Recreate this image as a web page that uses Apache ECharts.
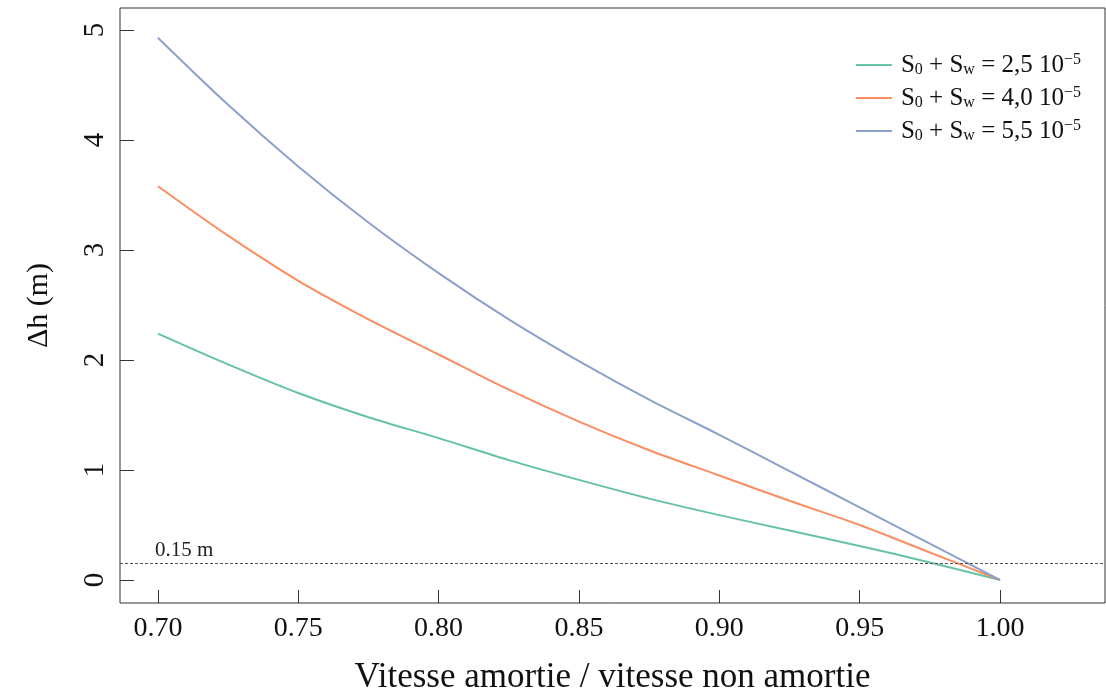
<!DOCTYPE html>
<html><head><meta charset="utf-8">
<script src="https://cdn.jsdelivr.net/npm/echarts@6/dist/echarts.min.js"></script>
<style>html,body{margin:0;padding:0;background:#fff}#c{width:1106px;height:693px}</style>
</head><body><div id="c"></div>
<script>
var ratio = [0.700,0.725,0.750,0.775,0.800,0.825,0.850,0.875,0.900,0.925,0.950,0.975,1.000];
var dh25 = [2.24,1.96,1.70,1.48,1.29,1.09,0.91,0.74,0.59,0.45,0.31,0.16,0.00];
var dh40 = [3.58,3.13,2.72,2.37,2.05,1.73,1.44,1.18,0.95,0.72,0.50,0.25,0.00];
var dh55 = [4.93,4.32,3.76,3.25,2.79,2.37,1.99,1.64,1.32,0.99,0.66,0.33,0.00];
var xTicks = [0.70,0.75,0.80,0.85,0.90,0.95,1.00];
var yTicks = [0,1,2,3,4,5];
var seriesNames = ['S0 + Sw = 2,5 10−5','S0 + Sw = 4,0 10−5','S0 + Sw = 5,5 10−5'];
var legendRich = ['S{sub|0} + S{sub|w} = 2,5 10{sup|−5}','S{sub|0} + S{sub|w} = 4,0 10{sup|−5}','S{sub|0} + S{sub|w} = 5,5 10{sup|−5}'];
var colors = ['#66c2a5','#fc8d62','#8da0cb'];
var threshold = 0.15;
var thresholdLabel = '0.15 m';

function pts(ys){ return ratio.map(function(x,i){ return [x, ys[i]]; }); }
var FONT = 'Liberation Serif';
var chart = echarts.init(document.getElementById('c'), null, {renderer:'canvas'});
var allData = [dh25, dh40, dh55];
var series = allData.map(function(d,i){
  var s = {type:'line', name:seriesNames[i], data:pts(d), smooth:0.3, showSymbol:false, symbol:'none',
    lineStyle:{color:colors[i], width:2}, itemStyle:{color:colors[i]}, z:3};
  if(i===0){
    s.markLine = {silent:true, symbol:'none', animation:false,
      lineStyle:{color:'#555', type:[3,2], width:1},
      label:{show:true, position:'insideStartTop', formatter:thresholdLabel, color:'#222', fontFamily:FONT, fontSize:21, distance:[35,3]},
      data:[{yAxis:threshold}]};
  }
  return s;
});
chart.setOption({
  animation:false,
  textStyle:{fontFamily:FONT},
  grid:{left:120, right:1, top:8, bottom:90, outerBoundsMode:'none', containLabel:false, show:true, borderColor:'#333', borderWidth:1, backgroundColor:'transparent'},
  xAxis:{type:'value', min:0.6865, max:1.0374,
    name:'Vitesse amortie / vitesse non amortie', nameLocation:'middle', nameGap:57,
    nameTextStyle:{fontFamily:FONT, fontSize:35, color:'#111'},
    axisLine:{show:false, onZero:false}, splitLine:{show:false},
    axisTick:{show:true, inside:true, length:13, customValues:xTicks, lineStyle:{color:'#333'}},
    axisLabel:{customValues:xTicks, formatter:function(v){return v.toFixed(2);}, fontFamily:FONT, fontSize:28, color:'#111', margin:12}
  },
  yAxis:{type:'value', min:-0.209, max:5.2,
    name:'Δh (m)', nameLocation:'middle', nameGap:66, nameRotate:90,
    nameTextStyle:{fontFamily:FONT, fontSize:30, color:'#111'},
    axisLine:{show:false, onZero:false}, splitLine:{show:false},
    axisTick:{show:true, inside:true, length:14, customValues:yTicks, lineStyle:{color:'#333'}},
    axisLabel:{customValues:yTicks, rotate:90, fontFamily:FONT, fontSize:29, color:'#111', margin:10}
  },
  legend:{orient:'vertical', right:20, top:47, icon:'rect', itemWidth:36, itemHeight:2, itemGap:7,
    data:seriesNames,
    formatter:function(n){ return legendRich[seriesNames.indexOf(n)]; },
    textStyle:{fontFamily:FONT, fontSize:25, color:'#111', lineHeight:26, padding:[0,0,0,4],
      rich:{sub:{fontFamily:FONT, fontSize:16, color:'#111', verticalAlign:'bottom', lineHeight:6},
            sup:{fontFamily:FONT, fontSize:16, color:'#111', verticalAlign:'top', lineHeight:12}}}
  },
  series:series
});
</script></body></html>
